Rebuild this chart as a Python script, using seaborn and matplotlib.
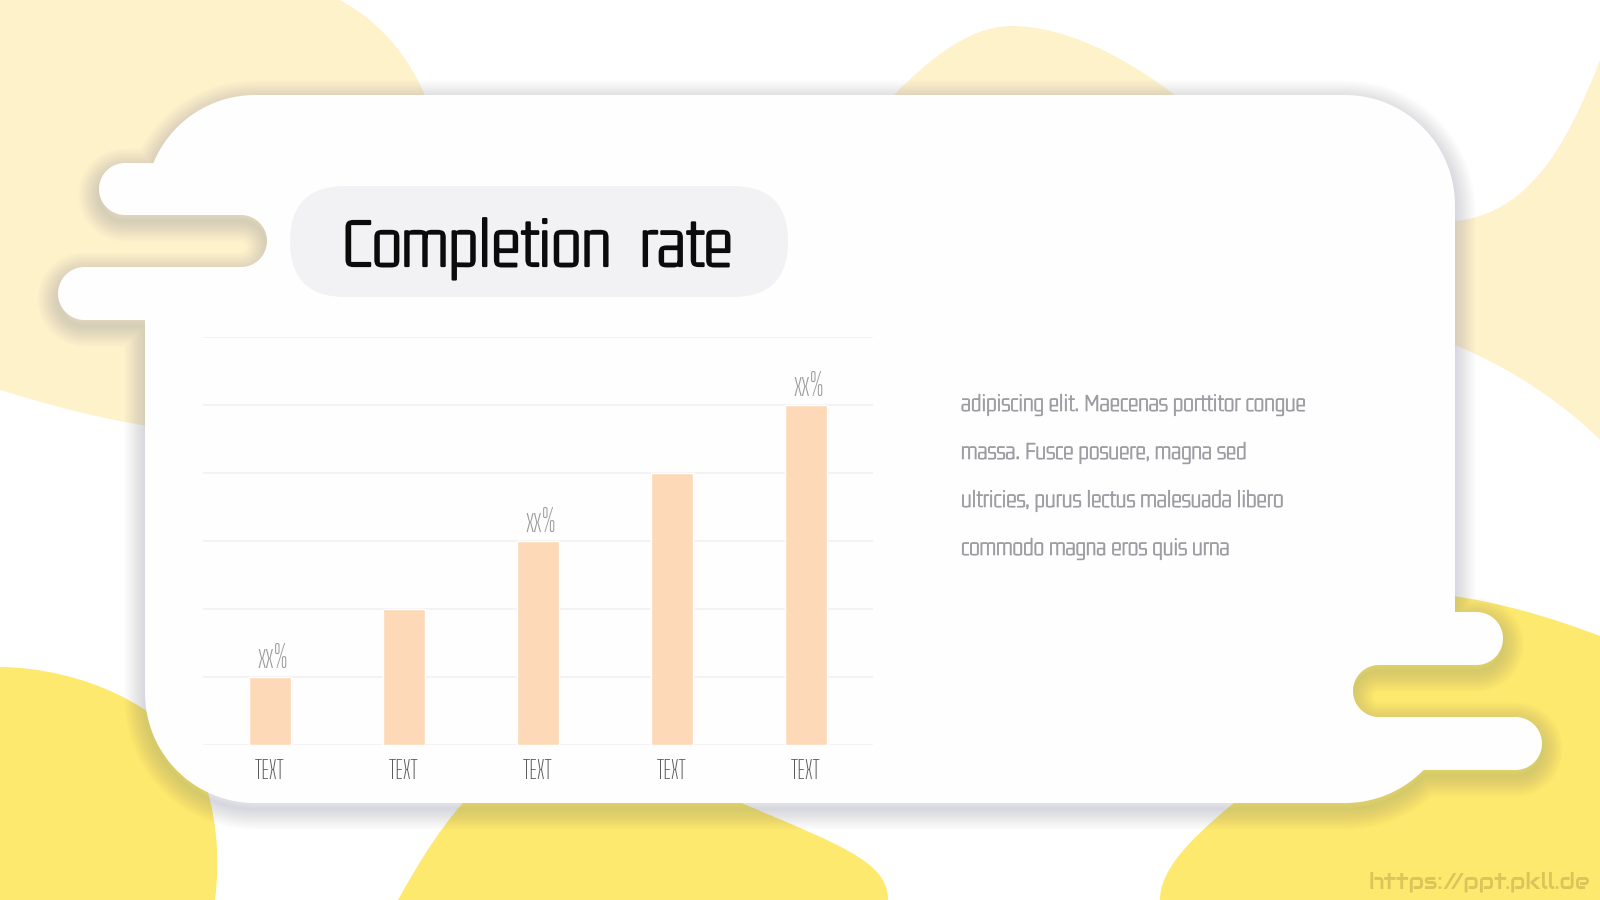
import numpy as np
import matplotlib
matplotlib.use("Agg")
import matplotlib.pyplot as plt
import matplotlib.patheffects as pe
from matplotlib.path import Path
from matplotlib.patches import PathPatch, FancyBboxPatch
from matplotlib import font_manager as fm
import seaborn as sns
import pandas as pd

# ---------------- data ----------------
categories = ["TEXT", "TEXT", "TEXT", "TEXT", "TEXT"]
values = [10, 20, 30, 40, 50]
value_labels = ["xx%", "", "xx%", "", "xx%"]
title_text = "Completion  rate"
body_lines = [
    "adipiscing elit. Maecenas porttitor congue",
    "massa. Fusce posuere, magna sed",
    "ultricies, purus lectus malesuada libero",
    "commodo magna eros quis urna",
]
watermark = "https://ppt.pkll.de"

# ---------------- style ----------------
sns.set_theme(style="white")
names = {f.name for f in fm.fontManager.ttflist}


def pick(*cands):
    for c in cands:
        if c in names:
            return [c, "DejaVu Sans"]
    return ["DejaVu Sans"]


F_TITLE = pick("Gemunu Libre", "Big Shoulders Text", "Oswald")
F_BODY = pick("Gemunu Libre", "Big Shoulders Text", "Oswald")
F_TICK = pick("Big Shoulders Text", "Big Shoulders Display", "Oswald")
F_VAL = pick("Big Shoulders Text", "Big Shoulders Display", "Oswald")
F_WM = pick("Audiowide", "Orbitron", "Exo 2")
plt.rcParams["font.family"] = ["DejaVu Sans"]

PALE = "#FEF2CB"
YELLOW = "#FDE96E"
CARD = "#FEFEFE"
BAR = "#FDD9B7"

fig = plt.figure(figsize=(16, 9), dpi=100)
fig.patch.set_facecolor("white")

# background canvas in pixel coordinates (y down)
bg = fig.add_axes([0, 0, 1, 1], zorder=0)
bg.set_xlim(0, 1600)
bg.set_ylim(900, 0)
bg.axis("off")

M, C, L4, Z = Path.MOVETO, Path.CURVE4, Path.LINETO, Path.CLOSEPOLY


def blob(verts, codes, color):
    bg.add_patch(PathPatch(Path(verts, codes), fc=color, ec="none", zorder=1))


# top-left pale blob
blob([(0, 0), (340, 0), (395, 30), (432, 85), (442, 160),
      (452, 300), (350, 445), (200, 432), (120, 426), (50, 405), (0, 390), (0, 0)],
     [M, L4, C, C, C, C, C, C, C, C, C, Z], PALE)
# top-centre pale bump
blob([(870, 120), (925, 60), (968, 26), (1012, 26), (1065, 26), (1135, 58), (1205, 120), (870, 120)],
     [M, C, C, C, C, C, C, Z], PALE)
# right pale blob
blob([(1600, 60), (1565, 150), (1525, 222), (1440, 222), (1400, 222), (1400, 345),
      (1455, 345), (1515, 370), (1565, 405), (1600, 440), (1600, 60)],
     [M, C, C, C, L4, L4, L4, C, C, C, Z], PALE)
# bottom-left yellow blob
blob([(0, 667), (80, 668), (165, 705), (198, 765), (218, 810), (220, 860), (215, 900),
      (0, 900), (0, 667)],
     [M, C, C, C, C, C, C, L4, Z], YELLOW)
# bottom-centre yellow blob
blob([(398, 900), (420, 860), (445, 820), (475, 790), (712, 790), (790, 825),
      (850, 845), (875, 870), (885, 880), (888, 890), (888, 900), (398, 900)],
     [M, C, C, C, L4, C, C, C, C, C, C, Z], YELLOW)
# bottom-right yellow blob
blob([(1160, 900), (1160, 865), (1200, 830), (1250, 790), (1300, 600),
      (1400, 578), (1500, 598), (1600, 636), (1600, 900), (1160, 900)],
     [M, C, C, C, L4, C, C, C, L4, Z], YELLOW)


def arc(cx, cy, r, t0, t1, n=40):
    t = np.radians(np.linspace(t0, t1, n))
    return np.column_stack([cx + r * np.cos(t), cy + r * np.sin(t)])


pieces = [
    arc(1345, 205, 110, 270, 360),
    np.array([[1455, 612]]),
    arc(1476.5, 638.5, 26.5, -90, 90),
    arc(1379, 691, 26, 270, 90),
    arc(1515.5, 743.5, 26.5, -90, 90),
    arc(1345, 693, 110, 44.4, 90),
    arc(255, 693, 110, 90, 180),
    np.array([[145, 320]]),
    arc(84.5, 293.5, 26.5, 90, 270),
    arc(241, 241, 26, 90, -90),
    arc(125, 189, 26, 90, 270),
    arc(255, 205, 110, 202.4, 270),
]
card_pts = np.vstack(pieces)
card_pts = np.vstack([card_pts, card_pts[:1]])
codes = [Path.MOVETO] + [Path.LINETO] * (len(card_pts) - 2) + [Path.CLOSEPOLY]

# soft drop shadow
shadow_path = Path(card_pts + np.array([0, 6]), codes)
for lw in np.linspace(30, 1.5, 20):
    bg.add_patch(PathPatch(shadow_path, fc="none", ec="#55556a", lw=lw, alpha=0.009,
                           joinstyle="round", zorder=2))
bg.add_patch(PathPatch(Path(card_pts, codes), fc=CARD, ec="none", zorder=3))

# title pill
bg.add_patch(FancyBboxPatch((290, 186), 498, 111,
                            boxstyle="round,pad=0,rounding_size=55.5",
                            fc="#F2F1F4", ec="none", zorder=4))
bg.text(342, 266, title_text, fontsize=51, color="#0B0B0B",
        ha="left", va="baseline", zorder=5, family=F_TITLE,
        path_effects=[pe.withStroke(linewidth=1.6, foreground="#0B0B0B")])

for i, line in enumerate(body_lines):
    bg.text(961, 411 + i * 48, line, fontsize=18, color="#9D9CA2",
            ha="left", va="baseline", zorder=5, family=F_BODY,
            path_effects=[pe.withStroke(linewidth=0.5, foreground="#9D9CA2")])

bg.text(1590, 888, watermark, fontsize=16, color="#DAC55B",
        ha="right", va="baseline", zorder=5, family=F_WM)

# ---------------- chart ----------------
ax = fig.add_axes([203 / 1600, 1 - 745 / 900, 670 / 1600, 408 / 900], zorder=2)
ax.patch.set_alpha(0)
df = pd.DataFrame({"slot": np.arange(len(values)), "value": values})
sns.barplot(data=df, x="slot", y="value", color=BAR, width=0.31, saturation=1,
            ax=ax, zorder=3)
ax.set_xlim(-0.5, 4.5)
ax.set_ylim(0, 60)
ax.set_yticks(np.arange(0, 61, 10))
ax.yaxis.grid(True, color="#F0EFF1", lw=1.1, zorder=0)
ax.xaxis.grid(False)
for s in ax.spines.values():
    s.set_visible(False)
ax.set_yticklabels([])
ax.set_xticks(np.arange(len(categories)))
ax.set_xticklabels(categories, fontsize=18, color="#5A5A5A", family=F_TICK)
ax.tick_params(axis="both", length=0)
ax.tick_params(axis="x", pad=10)
ax.set_xlabel("")
ax.set_ylabel("")
for i, (v, lab) in enumerate(zip(values, value_labels)):
    if lab:
        ax.text(i + 0.02, v + 1.3, lab, ha="center", va="baseline", fontsize=22,
                color="#9A9A9A", family=F_VAL)

fig.savefig("out.png", dpi=100, facecolor="white")
